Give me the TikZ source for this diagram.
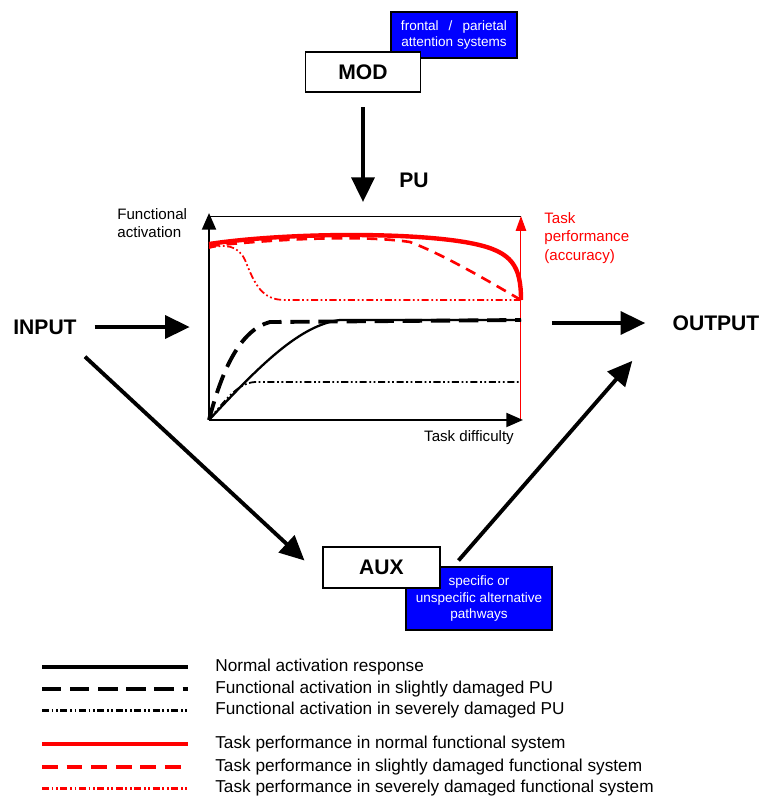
\documentclass[tikz,border=0pt]{standalone}
\usepackage{fontspec}
\setmainfont{Liberation Sans}
\usetikzlibrary{arrows.meta,calc}
\tikzset{
  box/.style={draw,fill=white,inner sep=0pt,line width=0.6pt,font=\fontsize{12}{14}\selectfont\bfseries},
  bluebox/.style={draw,fill=blue,text=white,align=center,inner sep=0pt,line width=0.6pt,font=\fontsize{7.7}{9.5}\selectfont},
  bigtext/.style={inner sep=0pt,font=\fontsize{12}{14}\selectfont\bfseries},
  smalltext/.style={inner sep=0pt,align=left,font=\fontsize{8.6}{10.5}\selectfont},
  legtext/.style={inner sep=0pt,anchor=west,font=\fontsize{9.8}{11}\selectfont},
  bigarrow/.style={line width=2.2pt,-{Triangle[length=14pt,width=13pt]}},
  axis/.style={line width=1.1pt,-{Triangle[length=9.5pt,width=8pt]}},
  redaxis/.style={red,line width=0.6pt,-{Triangle[length=8.5pt,width=6pt]}},
  normalact/.style={line width=1.3pt},
  slightact/.style={line width=2.2pt,dash pattern=on 11pt off 5pt},
  severeact/.style={line width=1pt,dash pattern=on 4pt off 1.5pt on 1pt off 1.5pt on 1pt off 1.5pt},
  normalperf/.style={red,line width=2.5pt},
  slightperf/.style={red,line width=1.5pt,dash pattern=on 6pt off 4pt},
  severeperf/.style={red,line width=1pt,dash pattern=on 4pt off 1.5pt on 1pt off 1.5pt on 1pt off 1.5pt}
}

\begin{document}
\begin{tikzpicture}[x=0.02cm,y=-0.02cm]
  \useasboundingbox (0,0) rectangle (760,796);

  % modulating system
  \node [bluebox,minimum width=2.52cm,minimum height=0.92cm] (attn) at (454,35)
        {frontal\hspace{0.75em}/\hspace{0.75em}parietal\\attention systems};
  \node [box,minimum width=2.3cm,minimum height=0.8cm] (mod) at (363,72) {MOD};

  % processing unit
  \node [minimum width=6.24cm,minimum height=4.08cm,inner sep=0pt,outer sep=0pt] (plot) at (365,318) {};
  \node [bigtext] (pu) at (414,180) {PU};
  \node [smalltext,anchor=north west] (yaxis) at (117,208) {Functional\\activation};
  \node [smalltext,anchor=north west,text=red] (raxis) at (544,212) {Task\\performance\\(accuracy)};
  \node [smalltext] (xaxis) at (469,438) {Task difficulty};

  \draw [line width=0.6pt] (plot.north west) -- (plot.north east);
  \draw [redaxis] (plot.south east) -- (plot.north east);
  \draw [axis] (plot.south west) -- ($(plot.north west)+(0,-3)$);
  \draw [axis] (plot.south west) -- ($(plot.south east)+(2,0)$);

  % activation curves
  \draw [normalact] (209,420) .. controls (260,365) and (300,325) .. (340,320) -- (521,320);
  \draw [slightact] (209,420) .. controls (222,370) and (240,330) .. (270,322) -- (521,320);
  \draw [severeact] (209,420) .. controls (225,400) and (238,383) .. (255,382) -- (521,382);

  % performance curves
  \draw [normalperf] (209,244) .. controls (290,232) and (420,232) .. (475,244)
        .. controls (512,252) and (521,266) .. (521,300);
  \draw [slightperf] (209,246) .. controls (300,237) and (370,236) .. (410,242)
        .. controls (445,255) and (495,285) .. (521,300);
  \draw [severeperf] (209,248) .. controls (225,244) and (238,245) .. (245,260)
        .. controls (255,285) and (262,300) .. (285,300) -- (521,300);

  % input, output, auxiliary pathways
  \node [bigtext] (input) at (45,327) {INPUT};
  \node [bigtext] (output) at (716,323) {OUTPUT};
  \node [bluebox,minimum width=2.92cm,minimum height=1.26cm] (alt) at (479,598.5)
        {specific or\\unspecific alternative\\pathways};
  \node [box,minimum width=2.34cm,minimum height=0.82cm] (aux) at (381.5,567.5) {AUX};

  \draw [bigarrow,shorten <=8.5pt,shorten >=8pt] (mod.south) -- (mod.south |- plot.north);
  \draw [bigarrow,shorten <=10pt,shorten >=11pt] (input.east) -- (input.east -| plot.west);
  \draw [bigarrow,shorten <=17.6pt,shorten >=15.4pt] (plot.east |- output) -- (output.west);
  \draw [bigarrow] ($(input.south east)+(8,22)$) -- ($(aux.west)+(-18,-7)$);
  \draw [bigarrow] ($(aux.east)+(18,-7)$) -- ($(output.south west)+(-40,30)$);

  % legend
  \draw [normalact,line width=2pt] (42,667) -- (188,667);
  \draw [slightact,line width=2pt] (42,689) -- (188,689);
  \draw [severeact,line width=1.7pt] (42,710) -- (188,710);
  \draw [normalperf,line width=2pt] (42,744) -- (188,744);
  \draw [slightperf,line width=2pt,dash pattern=on 9pt off 5pt] (42,767) -- (188,767);
  \draw [severeperf,line width=1.7pt] (42,788) -- (188,788);
  \node [legtext] (leg1) at (215,667) {Normal activation response};
  \node [legtext] (leg2) at (215,689) {Functional activation in slightly damaged PU};
  \node [legtext] (leg3) at (215,710) {Functional activation in severely damaged PU};
  \node [legtext] (leg4) at (215,744) {Task performance in normal functional system};
  \node [legtext] (leg5) at (215,767) {Task performance in slightly damaged functional system};
  \node [legtext] (leg6) at (215,788) {Task performance in severely damaged functional system};
\end{tikzpicture}
\end{document}
